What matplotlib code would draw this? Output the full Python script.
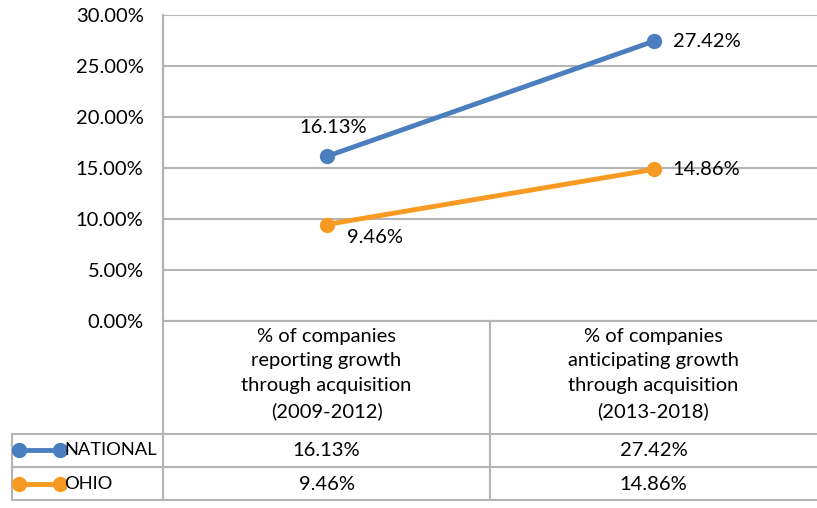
import matplotlib.pyplot as plt
from matplotlib.lines import Line2D

categories = [
    "% of companies\nreporting growth\nthrough acquisition\n(2009-2012)",
    "% of companies\nanticipating growth\nthrough acquisition\n(2013-2018)",
]
national = [0.1613, 0.2742]
ohio = [0.0946, 0.1486]
series_names = ["NATIONAL", "OHIO"]
yticks = [0.0, 0.05, 0.10, 0.15, 0.20, 0.25, 0.30]

BLUE = "#4A7EBF"
ORANGE = "#F79A22"
GRID = "#B4B4B4"
W, H = 817, 508

plt.rcParams["font.family"] = ["Lato", "DejaVu Sans"]
fs = 14.5

fig = plt.figure(figsize=(W / 100, H / 100), dpi=100)

def fx(px):
    return px / W

def fy(py):
    return 1 - py / H

# plot area
ax = fig.add_axes([fx(163), fy(321), fx(817) - fx(163), fy(15) - fy(321)])
x = list(range(len(categories)))
ax.plot(x, national, color=BLUE, lw=3.5, marker="o", ms=10, solid_capstyle="round")
ax.plot(x, ohio, color=ORANGE, lw=3.5, marker="o", ms=10, solid_capstyle="round")
ax.set_xlim(-0.5, len(categories) - 0.5)
ax.set_ylim(0, 0.30)
ax.set_yticks(yticks)
ax.set_yticklabels([f"{v * 100:.2f}%" for v in yticks], fontsize=fs)
ax.set_xticks([])
ax.tick_params(axis="y", length=0, pad=14)
ax.grid(axis="y", color=GRID, lw=1.5)
ax.set_axisbelow(True)
for s in ["top", "right"]:
    ax.spines[s].set_visible(False)
for s in ["left", "bottom"]:
    ax.spines[s].set_color(GRID)
    ax.spines[s].set_linewidth(1.5)
ax.spines["bottom"].set_visible(False)

# data labels
lab = lambda v: f"{v * 100:.2f}%"
ax.annotate(lab(national[0]), (x[0], national[0]), xytext=(7, 29), textcoords="offset pixels",
            ha="center", va="center", fontsize=fs)
ax.annotate(lab(national[1]), (x[1], national[1]), xytext=(19, 0), textcoords="offset pixels",
            ha="left", va="center", fontsize=fs)
ax.annotate(lab(ohio[0]), (x[0], ohio[0]), xytext=(21, -13), textcoords="offset pixels",
            ha="left", va="center", fontsize=fs)
ax.annotate(lab(ohio[1]), (x[1], ohio[1]), xytext=(19, 0), textcoords="offset pixels",
            ha="left", va="center", fontsize=fs)

# data table
def hline(y, x0, x1):
    fig.add_artist(Line2D([fx(x0), fx(x1)], [fy(y), fy(y)], color=GRID, lw=1.5))

def vline(xp, y0, y1):
    fig.add_artist(Line2D([fx(xp), fx(xp)], [fy(y0), fy(y1)], color=GRID, lw=1.5))

hline(321, 163, 817)
for yy in [434, 467, 500]:
    hline(yy, 12, 817)
vline(12, 434, 500)
vline(163, 15, 500)
vline(490, 321, 500)

col_centers = [326.5, 653.5]
for cx, cat in zip(col_centers, categories):
    fig.text(fx(cx), fy(374), cat, ha="center", va="center", fontsize=fs, linespacing=1.55)

row_y = [450, 484]
colors = [BLUE, ORANGE]
for ry, name, col, vals in zip(row_y, series_names, colors, [national, ohio]):
    fig.add_artist(Line2D([fx(19), fx(60)], [fy(ry), fy(ry)], color=col, lw=3.5,
                          marker="o", ms=10, markevery=[0, 1]))
    fig.text(fx(64), fy(ry), name, ha="left", va="center", fontsize=13.2)
    for cx, v in zip(col_centers, vals):
        fig.text(fx(cx), fy(ry), lab(v), ha="center", va="center", fontsize=fs)

fig.savefig("out.png", dpi=100)
